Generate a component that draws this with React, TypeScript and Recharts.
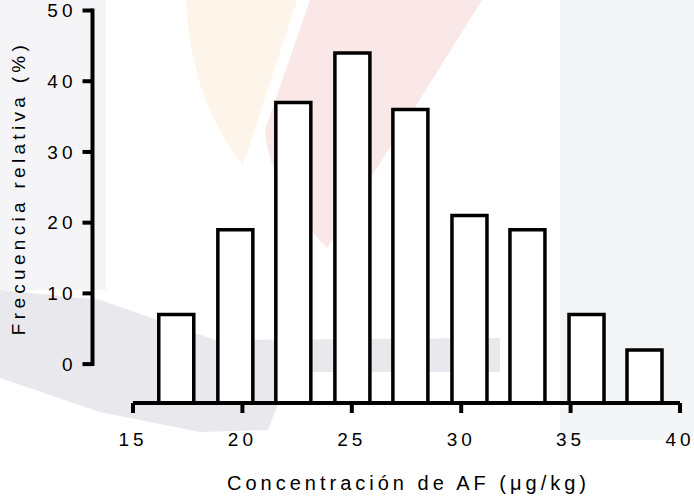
import React from "react";
import { BarChart, Bar, XAxis, YAxis, Label } from "recharts";

const binCenters = [17.0, 19.7, 22.35, 25.05, 27.7, 30.4, 33.05, 35.75, 38.4];
const frequencies = [7, 19, 37, 44, 36, 21, 19, 7, 2];
const xTicks = [15, 20, 25, 30, 35, 40];
const yTicks = [0, 10, 20, 30, 40, 50];

const xTitle = "Concentración de AF (μg/kg)";
const yTitle = "Frecuencia relativa (%)";

// the x axis sits below the y axis' zero, bars hang down to it
const Y_FLOOR = -5.5;
const X_PAD = 40.5;

const data = binCenters.map((x, i) => ({ x, range: [Y_FLOOR, frequencies[i]] }));

const font = "'Liberation Sans', Arial, sans-serif";

function XTitle({ viewBox }: any) {
  const cx = viewBox.x + X_PAD + (viewBox.width - X_PAD) / 2;
  return (
    <text x={cx + 2} y={490} textAnchor="middle" fontSize={20} fill="#000" style={{ letterSpacing: 4 }}>
      {xTitle}
    </text>
  );
}

function YTitle() {
  return (
    <text
      x={25}
      y={188}
      transform="rotate(-90, 25, 188)"
      textAnchor="middle"
      fontSize={19}
      fill="#000"
      style={{ letterSpacing: 4.3 }}
    >
      {yTitle}
    </text>
  );
}

// faint watermark behind the plot
function Watermark() {
  return (
    <svg width={694} height={496} style={{ position: "absolute", left: 0, top: 0 }}>
      <rect x={0} y={0} width={106} height={290} fill="#f5f5f7" />
      <rect x={560} y={0} width={134} height={440} fill="#f4f5f7" />
      <path d="M186,0 L297,0 L243,165 C215,130 190,80 186,0 Z" fill="#fdf4ea" />
      <path d="M310,0 L482,0 L327,248 C290,210 268,170 265,130 Z" fill="#fae8e8" />
      <path
        d="M0,290 L100,300 L215,340 L500,338 L500,372 L290,372 L268,430 L200,432 L100,412 L0,378 Z"
        fill="#e9e8ed"
      />
    </svg>
  );
}

export default function App() {
  return (
    <div style={{ position: "absolute", left: 0, top: 0, width: 694, height: 496, background: "#fff", fontFamily: font }}>
      <style>{`.recharts-cartesian-axis-tick-value { letter-spacing: 4px; }`}</style>
      <Watermark />
      <div style={{ position: "absolute", left: 0, top: 0 }}>
        <BarChart
          width={694}
          height={496}
          data={data}
          margin={{ top: 10.5, right: 14, bottom: 33, left: 12.5 }}
        >
          <XAxis
            dataKey="x"
            type="number"
            domain={[15, 40]}
            ticks={xTicks}
            interval={0}
            padding={{ left: X_PAD, right: 0 }}
            height={60}
            axisLine={{ stroke: "#000", strokeWidth: 4, strokeDasharray: `0 ${X_PAD} 600 100` }}
            tickLine={{ stroke: "#000", strokeWidth: 4 }}
            tickSize={10}
            tickMargin={20}
            tick={{ fill: "#000", fontSize: 19 }}
          >
            <Label content={XTitle} />
          </XAxis>
          <YAxis
            type="number"
            domain={[Y_FLOOR, 50]}
            ticks={yTicks}
            interval={0}
            width={80}
            axisLine={{ stroke: "#000", strokeWidth: 4, strokeDasharray: "353.5 1000", strokeLinecap: "square" }}
            tickLine={{ stroke: "#000", strokeWidth: 4 }}
            tickSize={10}
            tickMargin={6}
            tick={{ fill: "#000", fontSize: 19 }}
          >
            <Label content={YTitle} />
          </YAxis>
          <Bar dataKey="range" fill="#fff" stroke="#000" strokeWidth={3.5} barSize={35} isAnimationActive={false} />
        </BarChart>
      </div>
    </div>
  );
}
